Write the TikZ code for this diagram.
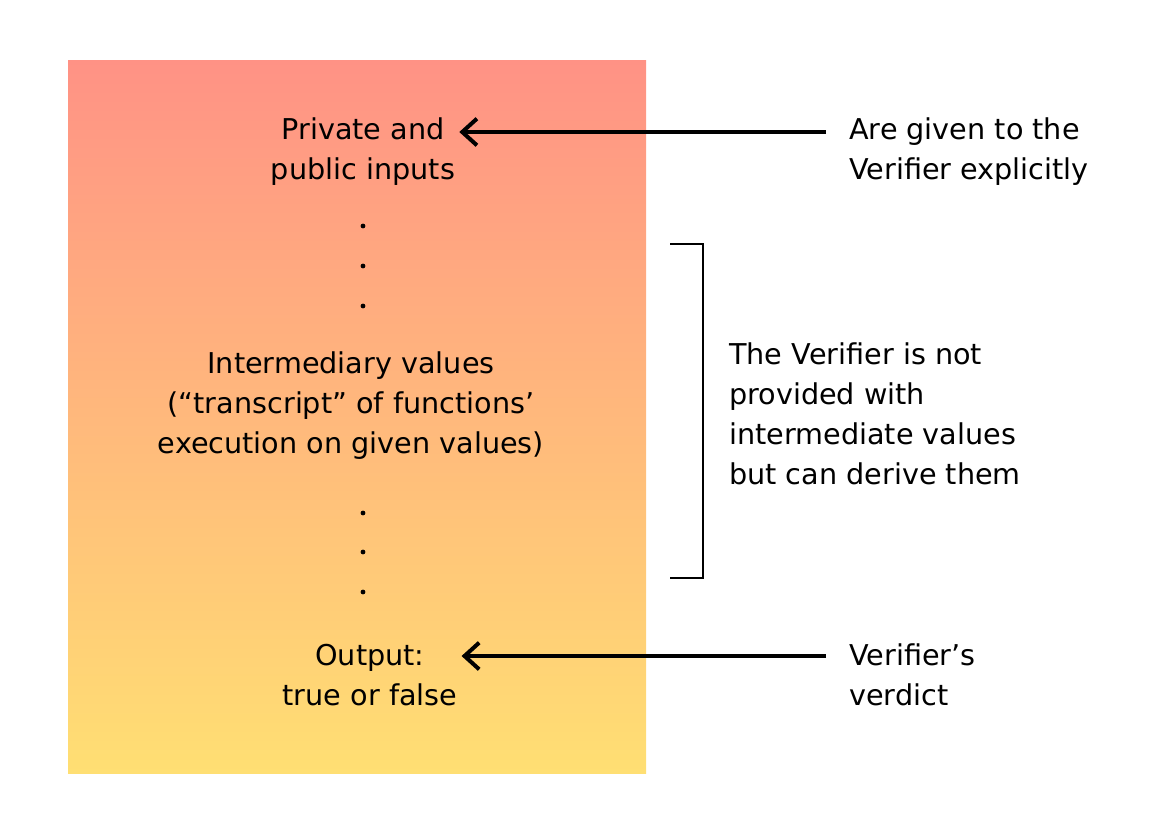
\documentclass[tikz,border=0pt]{standalone}
\usepackage{fontspec}
\setmainfont{DejaVu Sans}
\usetikzlibrary{arrows.meta}
\definecolor{boxtop}{RGB}{255,146,133}
\definecolor{boxbottom}{RGB}{255,223,115}

\begin{document}
\begin{tikzpicture}[x=0.75pt,y=-0.75pt,
  every node/.style={font=\fontsize{21.5}{30}\selectfont, inner sep=0pt},
  lefttext/.style={align=center, anchor=base},
  righttext/.style={align=left, anchor=base west},
  arrow/.style={-{Straight Barb[length=11pt,width=20pt]}, line width=3pt},
  bracket/.style={line width=1.5pt}]
  \useasboundingbox (0,0) rectangle (1160,832);
  % gradient column
  \shade[top color=boxtop, bottom color=boxbottom] (68,60) rectangle (646,773);

  \node[lefttext] (inputs) at (363,179) {Private and\\public inputs};
  \node[lefttext] (values) at (351,453) {Intermediary values\\(“transcript” of functions’\\execution on given values)};
  \node[lefttext] (output) at (370,705) {Output:\\true or false};

  % dots between the steps
  \foreach \y in {226,266,306,513,552,592}
    \fill (363,\y) circle[radius=1.8pt];

  \node[righttext] (given) at (849,179) {Are given to the\\Verifier explicitly};
  \node[righttext] (derive) at (729,484) {The Verifier is not\\provided with\\intermediate values\\but can derive them};
  \node[righttext] (verdict) at (849,705) {Verifier’s\\verdict};

  \coordinate (givenTail) at ([shift={(-23,-47)}]given.base west);
  \coordinate (verdictTail) at ([shift={(-23,-49)}]verdict.base west);
  \draw[arrow] (givenTail) -- ([xshift=3pt]inputs.east |- givenTail);
  \draw[arrow] (verdictTail) -- ([xshift=3pt]output.east |- verdictTail);

  % bracket over the intermediary part
  \draw[bracket] (670,244) -- (703,244) -- (703,578) -- (670,578);
\end{tikzpicture}
\end{document}
